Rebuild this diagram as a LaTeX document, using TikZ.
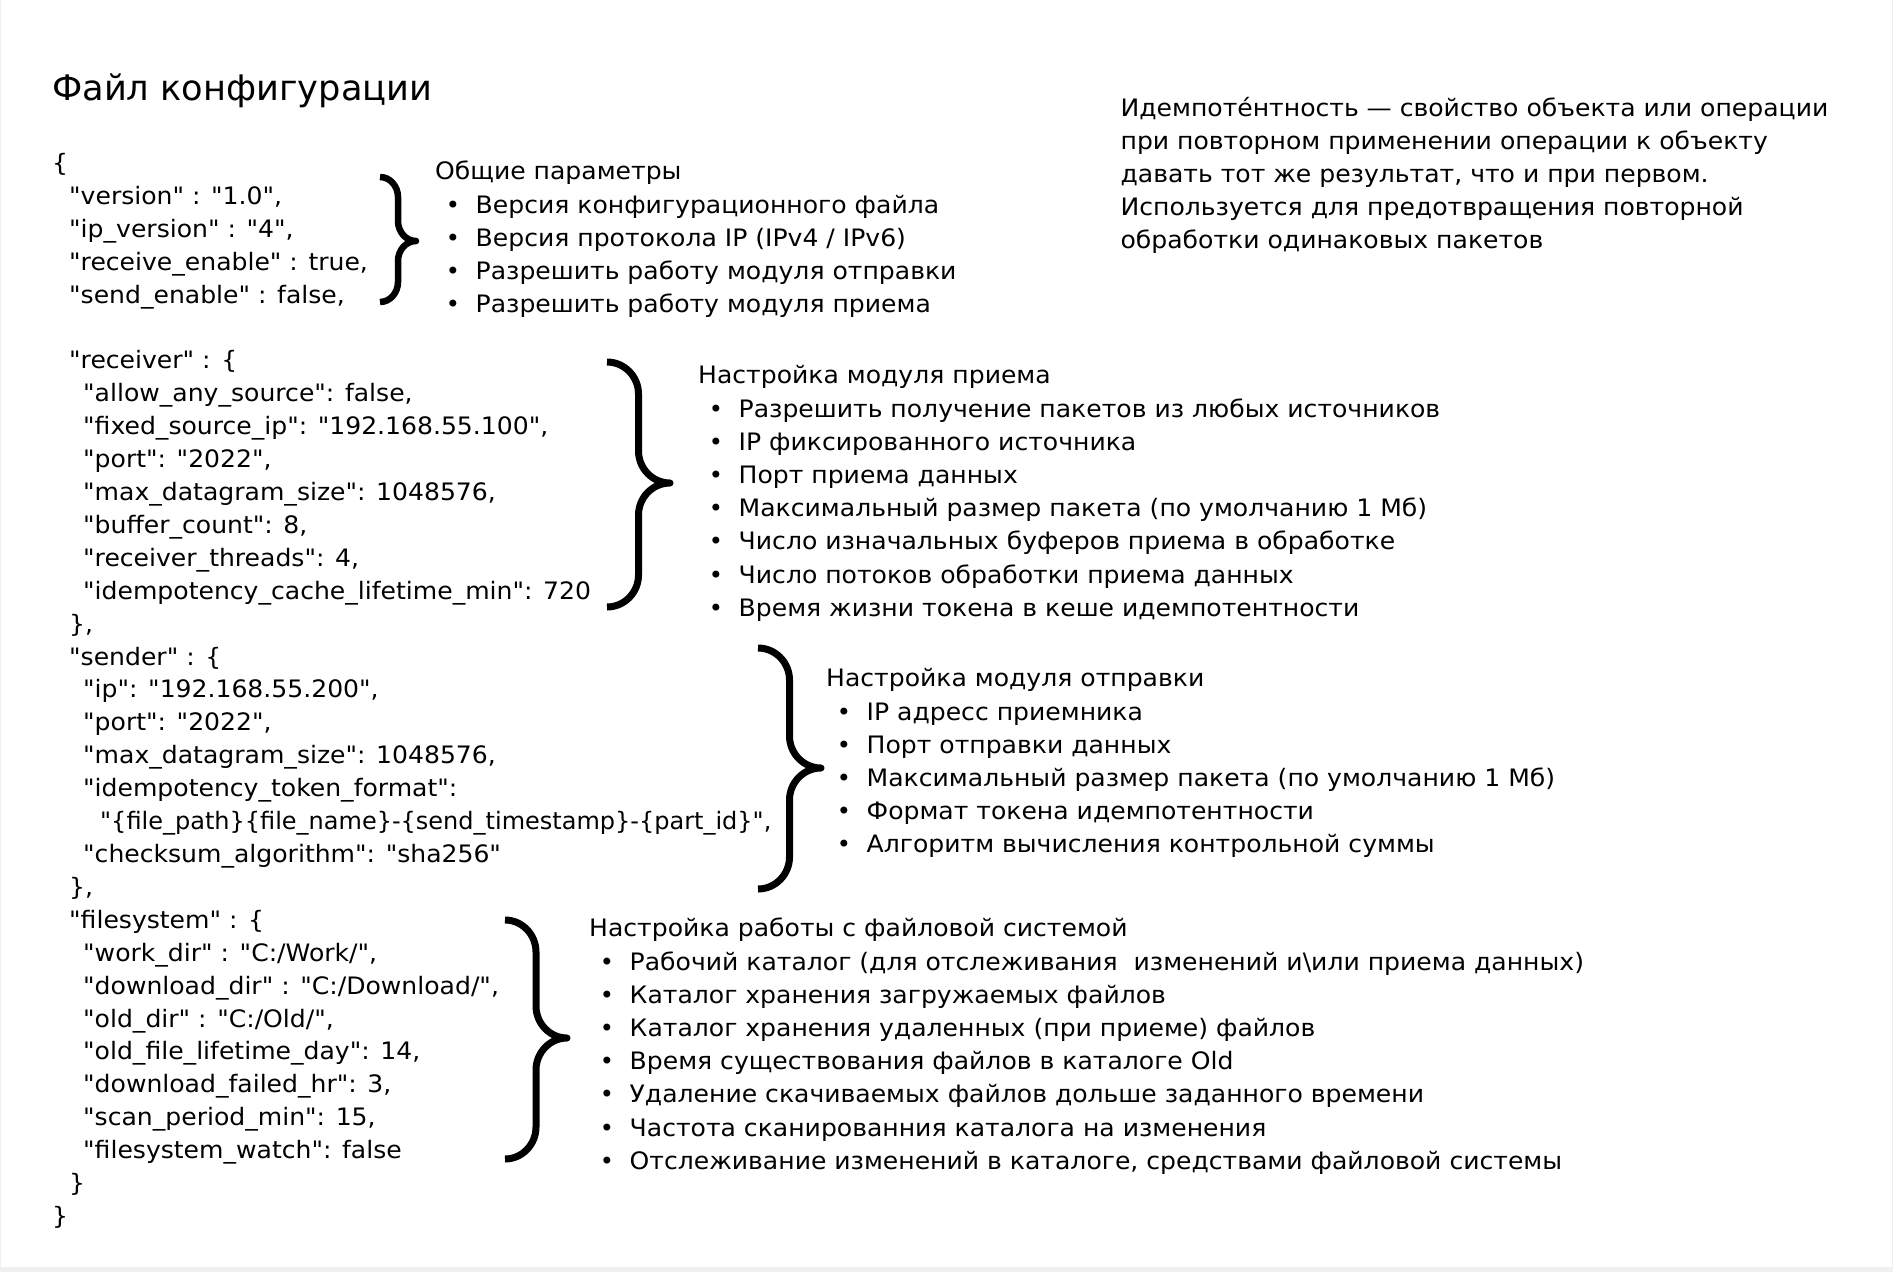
\documentclass[tikz,border=0pt]{standalone}
\usepackage{fontspec}
\newfontfamily\dvs{DejaVu Sans}[FakeStretch=1.045]
\newfontfamily\dvsplain{DejaVu Sans}
\definecolor{framegray}{HTML}{F0F0F0}
\tikzset{
  txt/.style={anchor=base west, inner sep=0pt, font=\dvs\fontsize{24}{28}\selectfont, text=black},
  bul/.style={anchor=base, inner sep=0pt, font=\dvsplain\fontsize{24}{28}\selectfont, text=black},
  ttl/.style={anchor=base west, inner sep=0pt, font=\dvsplain\fontsize{35.2}{42}\selectfont, text=black},
  bracestroke/.style={line width=#1, line cap=butt, line join=round, draw=black},
  bracestroke/.default=7pt,
}
% code line: index, x, text
\newcommand\codeln[3]{\node[txt] (c#1) at (#2,{204.3+32.91*(#1)}) {#3};}
% brace: x0, xtip, ytop, ybot, ymid, hook, width
\newcommand\jsonbrace[7]{%
  \pgfmathsetmacro\bxs{(#1+#2)/2}%
  \draw[bracestroke=#7]
    (#1,#3) .. controls ({#1+0.55*(\bxs-#1)},#3) and (\bxs,{#3+0.45*#6}) .. (\bxs,{#3+#6})
    -- (\bxs,{#5-#6})
    .. controls (\bxs,{#5-0.45*#6}) and ({\bxs+0.45*(#2-\bxs)},#5) .. (#2,#5)
    .. controls ({\bxs+0.45*(#2-\bxs)},#5) and (\bxs,{#5+0.45*#6}) .. (\bxs,{#5+#6})
    -- (\bxs,{#4-#6})
    .. controls (\bxs,{#4-0.45*#6}) and ({#1+0.55*(\bxs-#1)},#4) .. (#1,#4);}
% info block: name, x, baseline, header, items
\newcommand\infoblock[5]{%
  \node[txt] (#1h) at (#2,#3) {#4};
  \foreach \itm [count=\k] in {#5} {
    \node[bul] (#1b\k) at ({#2+18},{#3+33.2*\k}) {•};
    \node[txt] (#1t\k) at ({#2+40.5},{#3+33.2*\k}) {\itm};
  }}
\begin{document}
\begin{tikzpicture}[x=1pt,y=-1pt]
\fill[framegray] (0,0) rectangle (1893,1272);
\fill[white] (1,0) rectangle (1892,1267);
\useasboundingbox (0,0) rectangle (1893,1272);

\node[ttl] (title) at (52,100) {Файл конфигурации};

\codeln{-1}{52}{\{}
\codeln{0}{69}{"version" : "1.0",}
\codeln{1}{69}{"ip\_version" : "4",}
\codeln{2}{69}{"receive\_enable" : true,}
\codeln{3}{69}{"send\_enable" : false,}
\codeln{5}{69}{"receiver" : \{}
\codeln{6}{83}{"allow\_any\_source": false,}
\codeln{7}{83}{"fixed\_source\_ip": "192.168.55.100",}
\codeln{8}{83}{"port": "2022",}
\codeln{9}{83}{"max\_datagram\_size": 1048576,}
\codeln{10}{83}{"buffer\_count": 8,}
\codeln{11}{83}{"receiver\_threads": 4,}
\codeln{12}{83}{"idempotency\_cache\_lifetime\_min": 720}
\codeln{13}{69}{\},}
\codeln{14}{69}{"sender" : \{}
\codeln{15}{83}{"ip": "192.168.55.200",}
\codeln{16}{83}{"port": "2022",}
\codeln{17}{83}{"max\_datagram\_size": 1048576,}
\codeln{18}{83}{"idempotency\_token\_format":}
\codeln{19}{100}{\dvsplain"\{file\_path\}\{file\_name\}-\{send\_timestamp\}-\{part\_id\}",}
\codeln{20}{83}{"checksum\_algorithm": "sha256"}
\codeln{21}{69}{\},}
\codeln{22}{69}{"filesystem" : \{}
\codeln{23}{83}{"work\_dir" : "C:/Work/",}
\codeln{24}{83}{"download\_dir" : "C:/Download/",}
\codeln{25}{83}{"old\_dir" : "C:/Old/",}
\codeln{26}{83}{"old\_file\_lifetime\_day": 14,}
\codeln{27}{83}{"download\_failed\_hr": 3,}
\codeln{28}{83}{"scan\_period\_min": 15,}
\codeln{29}{83}{"filesystem\_watch": false}
\codeln{30}{69}{\}}
\codeln{31}{52}{\}}

\jsonbrace{380}{416}{177}{302}{241}{20}{6.5pt}
\jsonbrace{607}{670}{362}{607}{483}{32}{7pt}
\jsonbrace{758}{821}{648}{889}{768}{32}{7pt}
\jsonbrace{505}{567}{920}{1159}{1038}{32}{7pt}

\infoblock{g}{435}{179.8}{Общие параметры}{%
  {Версия конфигурационного файла},
  {Версия протокола IP (IPv4 / IPv6)},
  {Разрешить работу модуля отправки},
  {Разрешить работу модуля приема}}
\infoblock{r}{698}{383.8}{Настройка модуля приема}{%
  {Разрешить получение пакетов из любых источников},
  {IP фиксированного источника},
  {Порт приема данных},
  {Максимальный размер пакета (по умолчанию 1 Мб)},
  {Число изначальных буферов приема в обработке},
  {Число потоков обработки приема данных},
  {Время жизни токена в кеше идемпотентности}}
\infoblock{s}{826}{686.8}{Настройка модуля отправки}{%
  {IP адресс приемника},
  {Порт отправки данных},
  {Максимальный размер пакета (по умолчанию 1 Мб)},
  {Формат токена идемпотентности},
  {Алгоритм вычисления контрольной суммы}}
\infoblock{f}{589}{936.8}{Настройка работы с файловой системой}{%
  {Рабочий каталог (для отслеживания~ изменений и\textbackslash или приема данных)},
  {Каталог хранения загружаемых файлов},
  {Каталог хранения удаленных (при приеме) файлов},
  {Время существования файлов в каталоге Old},
  {Удаление скачиваемых файлов дольше заданного времени},
  {Частота сканированния каталога на изменения},
  {Отслеживание изменений в каталоге, средствами файловой системы}}

\node[txt] (d1) at (1120.4,116.3) {Идемпоте́нтность — свойство объекта или операции};
\node[txt] (d2) at (1120.4,149.3) {при повторном применении операции к объекту};
\node[txt] (d3) at (1120.4,182.3) {давать тот же результат, что и при первом.};
\node[txt] (d4) at (1120.4,215.3) {Используется для предотвращения повторной};
\node[txt] (d5) at (1120.4,248.3) {обработки одинаковых пакетов};
\end{tikzpicture}
\end{document}
